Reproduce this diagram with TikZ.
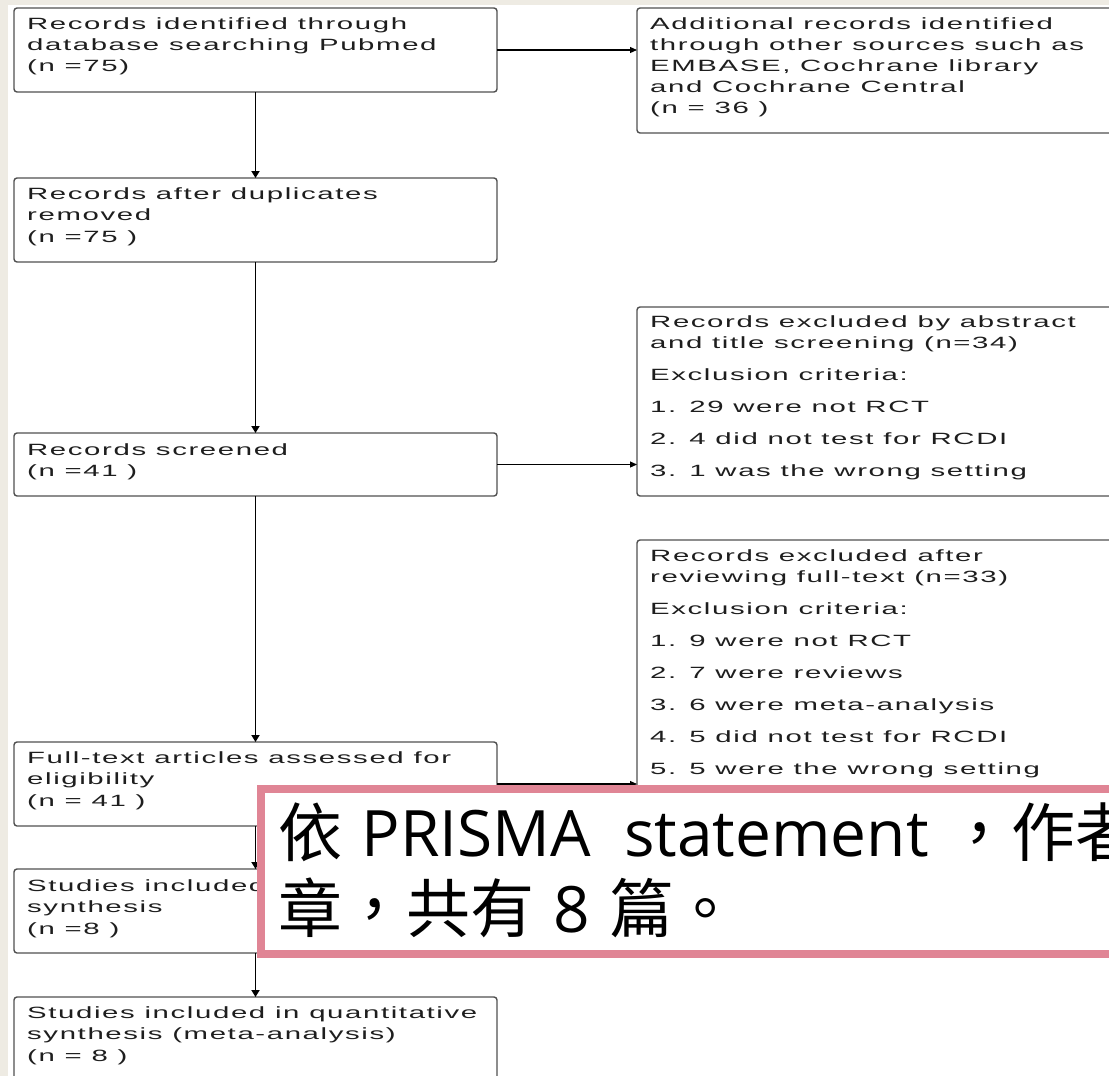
\documentclass[tikz,border=0pt]{standalone}
\usepackage{fontspec}
\newfontfamily\boxfont[FakeStretch=1.8,LetterSpace=10]{Liberation Sans}
\newfontfamily\cjkfont{Noto Sans CJK TC}
\newfontfamily\latfont{Open Sans}
\usetikzlibrary{arrows.meta}
\definecolor{bgbeige}{HTML}{EEEBE3}
\definecolor{boxgray}{HTML}{505050}
\definecolor{txtgray}{HTML}{1E1E1E}
\definecolor{notepink}{HTML}{E08595}
\begin{document}
\begin{tikzpicture}[x=1pt,y=-1pt,
  box/.style={draw=boxgray, line width=1.4pt, rounded corners=3pt, fill=white,
    inner sep=0pt, outer sep=0pt, anchor=north west},
  txt/.style={anchor=base west, inner sep=0pt, text=txtgray,
    font=\boxfont\fontsize{16.3}{20}\selectfont},
  arr/.style={draw=black, line width=1.9pt, -{Triangle[length=7pt,width=8pt]}},
  harr/.style={draw=black, line width=1.1pt, -{Triangle[length=7pt,width=6pt]}},
  note/.style={draw=notepink, line width=8pt, fill=white, inner sep=0pt,
    outer sep=0pt, anchor=north west},
  notetxt/.style={anchor=base west, inner sep=0pt, text=black,
    font=\fontsize{64}{76}\selectfont}
]
\useasboundingbox (0,0) rectangle (1109,1076);
\clip (0,0) rectangle (1109,1076);
\fill[bgbeige] (0,0) rectangle (1109,1076);
\fill[white] (8,5) rectangle (1109,1076);

% boxes
\node[box, minimum width=483pt, minimum height=84pt] (b1) at (14,8) {};
\node[box, minimum width=500pt, minimum height=125pt] (b2) at (637,8) {};
\node[box, minimum width=483pt, minimum height=84pt] (b3) at (14,178) {};
\node[box, minimum width=500pt, minimum height=189pt] (b4) at (637,307) {};
\node[box, minimum width=483pt, minimum height=63pt] (b5) at (14,433) {};
\node[box, minimum width=500pt, minimum height=260pt] (b6) at (637,540) {};
\node[box, minimum width=483pt, minimum height=84pt] (b7) at (14,742) {};
\node[box, minimum width=483pt, minimum height=84pt] (b8) at (14,869) {};
\node[box, minimum width=483pt, minimum height=100pt] (b9) at (14,997) {};

% texts
\foreach \y/\t [count=\i] in {29/{Records identified through},50/{database searching Pubmed},71/{(n =75)}}
  \node[txt] (t1\i) at (27,\y) {\t};
\foreach \y/\t [count=\i] in {29/{Additional records identified},50/{through other sources such as},71/{EMBASE, Cochrane library},92/{and Cochrane Central},113/{(n = 36 )}}
  \node[txt] (t2\i) at (650,\y) {\t};
\foreach \y/\t [count=\i] in {199/{Records after duplicates},220/{removed},242/{(n =75 )}}
  \node[txt] (t3\i) at (27,\y) {\t};
\foreach \y/\t [count=\i] in {327/{Records excluded by abstract},348/{and title screening (n=34)},380/{Exclusion criteria:},412/{1. 29 were not RCT},444/{2. 4 did not test for RCDI},476/{3. 1 was the wrong setting}}
  \node[txt] (t4\i) at (650,\y) {\t};
\foreach \y/\t [count=\i] in {455/{Records screened},476/{(n =41 )}}
  \node[txt] (t5\i) at (27,\y) {\t};
\foreach \y/\t [count=\i] in {561/{Records excluded after},582/{reviewing full-text (n=33)},614/{Exclusion criteria:},646/{1. 9 were not RCT},678/{2. 7 were reviews},710/{3. 6 were meta-analysis},742/{4. 5 did not test for RCDI},774/{5. 5 were the wrong setting}}
  \node[txt] (t6\i) at (650,\y) {\t};
\foreach \y/\t [count=\i] in {763/{Full-text articles assessed for},784/{eligibility},806/{(n = 41 )}}
  \node[txt] (t7\i) at (27,\y) {\t};
\foreach \y/\t [count=\i] in {891/{Studies included},912/{synthesis},934/{(n =8 )}}
  \node[txt] (t8\i) at (27,\y) {\t};
\foreach \y/\t [count=\i] in {1018/{Studies included in quantitative},1039/{synthesis (meta-analysis)},1061/{(n = 8 )}}
  \node[txt] (t9\i) at (27,\y) {\t};

% connectors
\draw[arr] (b1.south) -- (b3.north);
\draw[arr] (b3.south) -- (b5.north);
\draw[arr] (b5.south) -- (b7.north);
\draw[arr] (b7.south) -- (b8.north);
\draw[arr] (b8.south) -- (b9.north);
\draw[harr] (b1.east) -- (b1.east -| b2.west);
\draw[harr] (b5.east) -- (b5.east -| b4.west);
\draw[harr] (b7.east) -- (b7.east -| b6.west);

% overlay note
\node[note, minimum width=900pt, minimum height=165pt] (note) at (261,789) {};
\node[notetxt] (n1) at (278,856) {{\cjkfont 依} {\latfont PRISMA\ \ statement} {\cjkfont ，作者}};
\node[notetxt] (n2) at (278,932) {{\cjkfont 章，共有} {\latfont 8} {\cjkfont 篇。}};
\end{tikzpicture}
\end{document}
